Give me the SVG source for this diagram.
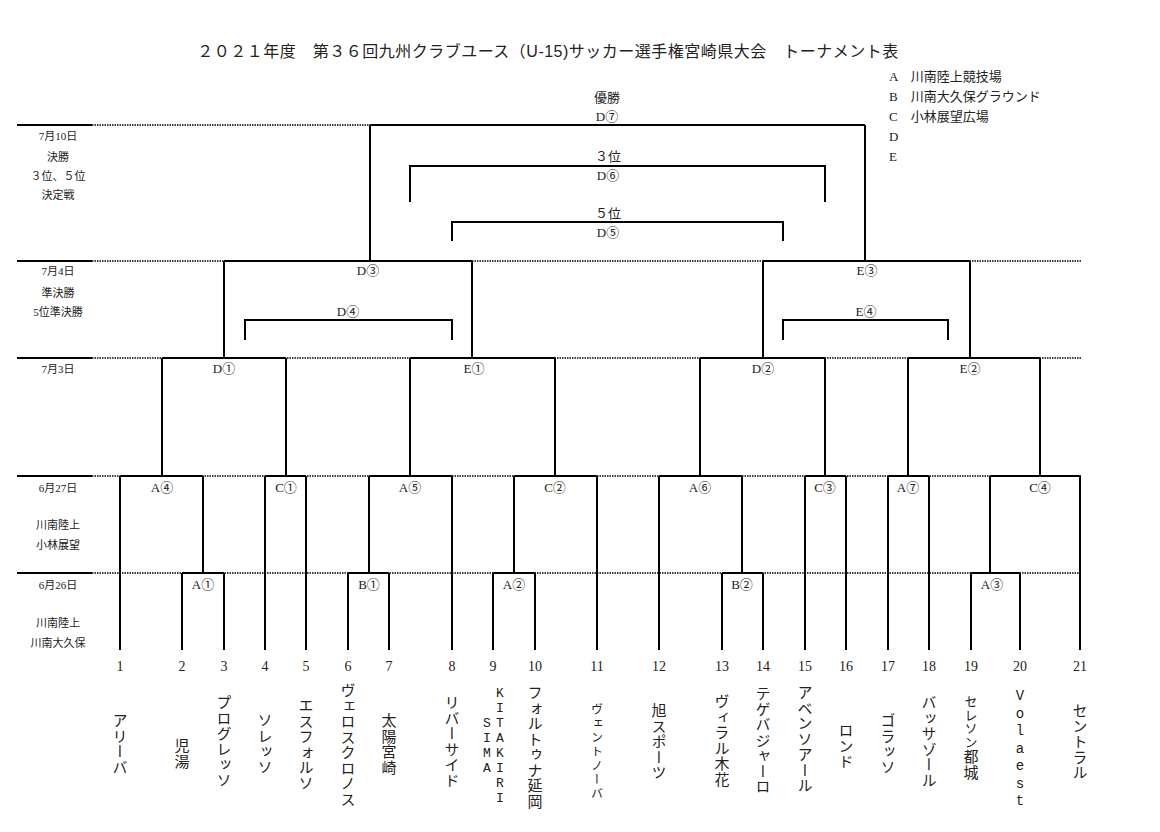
<svg xmlns="http://www.w3.org/2000/svg" width="1160" height="832" viewBox="0 0 1160 832">
<style>
text{font-family:"Liberation Serif","Noto Sans CJK JP",serif;fill:#222}
.t{font-family:"Liberation Sans","Noto Sans CJK JP",sans-serif;font-size:16px;letter-spacing:0.5px}
.s{font-size:11px;text-anchor:middle}
.m{font-size:13px;text-anchor:middle}
.n{font-size:14px;text-anchor:middle}
.lg{font-size:13px}
.v{font-size:15px;writing-mode:vertical-rl;text-orientation:upright;letter-spacing:0.5px;font-family:"Noto Sans CJK JP",serif}
.lat{font-family:"Liberation Mono",monospace;font-size:13px}
.b{fill:none;stroke:#000;stroke-width:2}
.d{stroke:#000;stroke-width:1.5;stroke-dasharray:1.5 1}
.sl{stroke:#000;stroke-width:2}
</style>
<rect width="1160" height="832" fill="#fff"/>
<text class="t" x="548" y="57" text-anchor="middle">２０２１年度　第３６回九州クラブユース（U-15)サッカー選手権宮崎県大会　トーナメント表</text>
<g id="legend">
<text class="lg" x="889" y="81">A　川南陸上競技場</text>
<text class="lg" x="889" y="101">B　川南大久保グラウンド</text>
<text class="lg" x="889" y="121">C　小林展望広場</text>
<text class="lg" x="889" y="141">D</text>
<text class="lg" x="889" y="161">E</text>
</g>
<g id="rows">
<line class="sl" x1="17" y1="125" x2="92" y2="125"/><line class="d" x1="92" y1="125" x2="370" y2="125"/>
<line class="sl" x1="17" y1="261" x2="92" y2="261"/><line class="d" x1="92" y1="261" x2="1082" y2="261"/>
<line class="sl" x1="17" y1="358" x2="92" y2="358"/><line class="d" x1="92" y1="358" x2="1082" y2="358"/>
<line class="sl" x1="17" y1="476" x2="92" y2="476"/><line class="d" x1="92" y1="476" x2="1082" y2="476"/>
<line class="sl" x1="17" y1="573" x2="92" y2="573"/><line class="d" x1="92" y1="573" x2="1082" y2="573"/>
<text class="s" x="58" y="140">7月10日</text><text class="s" x="58" y="161">決勝</text><text class="s" x="58" y="180">３位、５位</text><text class="s" x="58" y="199">決定戦</text>
<text class="s" x="58" y="275">7月4日</text><text class="s" x="58" y="297">準決勝</text><text class="s" x="58" y="316">5位準決勝</text>
<text class="s" x="58" y="373">7月3日</text>
<text class="s" x="58" y="492">6月27日</text><text class="s" x="58" y="529">川南陸上</text><text class="s" x="58" y="549">小林展望</text>
<text class="s" x="58" y="589">6月26日</text><text class="s" x="58" y="627">川南陸上</text><text class="s" x="58" y="647">川南大久保</text>
</g>
<g id="connectors">
<path class="b" d="M120 650V476M182 650V573M224 650V573M265 650V476M306 650V476M348 650V573M389 650V573M452 650V476M493 650V573M535 650V573M597 650V476M659 650V476M722 650V573M763 650V573M805 650V476M846 650V476M888 650V476M929 650V476M971 650V573M1020 650V573M1080 650V476"/>
<path class="b" d="M182 573H224M203 573V476M348 573H389M369 573V476M493 573H535M514 573V476M722 573H763M742 573V476M971 573H1020M990 573V476"/>
<path class="b" d="M120 476H203M162 476V358M265 476H306M286 476V358M369 476H452M410 476V358M514 476H597M555 476V358M659 476H742M700 476V358M805 476H846M825 476V358M888 476H929M908 476V358M990 476H1080M1040 476V358"/>
<path class="b" d="M162 358H286M224 358V261M410 358H555M472 358V261M700 358H825M763 358V261M908 358H1040M970 358V261"/>
<path class="b" d="M224 261H472M370 261V125M763 261H970M865 261V125M370 125H865"/>
<path class="b" d="M410 202V166H825V202M452 241V222H783V241M245 340V320H452V340M783 340V320H948V340"/>
</g>
<g id="labels">
<text class="m" x="607" y="102">優勝</text><text class="m" x="607" y="121">D⑦</text>
<text class="m" x="608" y="161">３位</text><text class="m" x="608" y="180">D⑥</text>
<text class="m" x="608" y="218">５位</text><text class="m" x="608" y="237">D⑤</text>
<text class="m" x="368" y="275">D③</text><text class="m" x="867" y="275">E③</text>
<text class="m" x="348" y="316">D④</text><text class="m" x="866" y="316">E④</text>
<text class="m" x="224" y="373">D①</text><text class="m" x="474" y="373">E①</text><text class="m" x="763" y="373">D②</text><text class="m" x="970" y="373">E②</text>
<text class="m" x="162" y="492">A④</text><text class="m" x="286" y="492">C①</text><text class="m" x="410" y="492">A⑤</text><text class="m" x="555" y="492">C②</text><text class="m" x="700" y="492">A⑥</text><text class="m" x="825" y="492">C③</text><text class="m" x="908" y="492">A⑦</text><text class="m" x="1040" y="492">C④</text>
<text class="m" x="203" y="589">A①</text><text class="m" x="369" y="589">B①</text><text class="m" x="514" y="589">A②</text><text class="m" x="742" y="589">B②</text><text class="m" x="992" y="589">A③</text>
</g>
<g id="teams">
<text class="n" x="120" y="671">1</text><text class="n" x="182" y="671">2</text><text class="n" x="224" y="671">3</text><text class="n" x="265" y="671">4</text><text class="n" x="306" y="671">5</text><text class="n" x="348" y="671">6</text><text class="n" x="389" y="671">7</text><text class="n" x="452" y="671">8</text><text class="n" x="493" y="671">9</text><text class="n" x="535" y="671">10</text><text class="n" x="597" y="671">11</text><text class="n" x="659" y="671">12</text><text class="n" x="722" y="671">13</text><text class="n" x="763" y="671">14</text><text class="n" x="805" y="671">15</text><text class="n" x="846" y="671">16</text><text class="n" x="888" y="671">17</text><text class="n" x="929" y="671">18</text><text class="n" x="971" y="671">19</text><text class="n" x="1020" y="671">20</text><text class="n" x="1080" y="671">21</text>
<text class="v" x="120" y="713">アリーバ</text>
<text class="v" x="182" y="738">児湯</text>
<text class="v" x="224" y="695">プログレッソ</text>
<text class="v" x="265" y="713">ソレッソ</text>
<text class="v" x="306" y="698">エスフォルソ</text>
<text class="v" x="348" y="683">ヴェロスクロノス</text>
<text class="v" x="389" y="713">太陽宮崎</text>
<text class="v" x="452" y="695">リバーサイド</text>
<text class="v lat" x="500" y="686" style="letter-spacing:0px">KITAKIRI</text>
<text class="v lat" x="487" y="716" style="letter-spacing:0px">SIMA</text>
<text class="v" x="535" y="685">フォルトゥナ延岡</text>
<text class="v" x="597" y="703" style="font-size:12px;letter-spacing:2px">ヴェントノーバ</text>
<text class="v" x="659" y="703">旭スポーツ</text>
<text class="v" x="722" y="694">ヴィラル木花</text>
<text class="v" x="763" y="686">テゲバジャーロ</text>
<text class="v" x="805" y="685">アベンソアール</text>
<text class="v" x="846" y="723">ロンド</text>
<text class="v" x="888" y="713">ゴラッソ</text>
<text class="v" x="929" y="695">バッサゾール</text>
<text class="v" x="971" y="695"><tspan style="font-size:13px">セレソン</tspan>都城</text>
<text class="v lat" x="1020" y="688" style="letter-spacing:1.5px;font-size:14px">Volaest</text>
<text class="v" x="1080" y="703">セントラル</text>
</g>
</svg>
